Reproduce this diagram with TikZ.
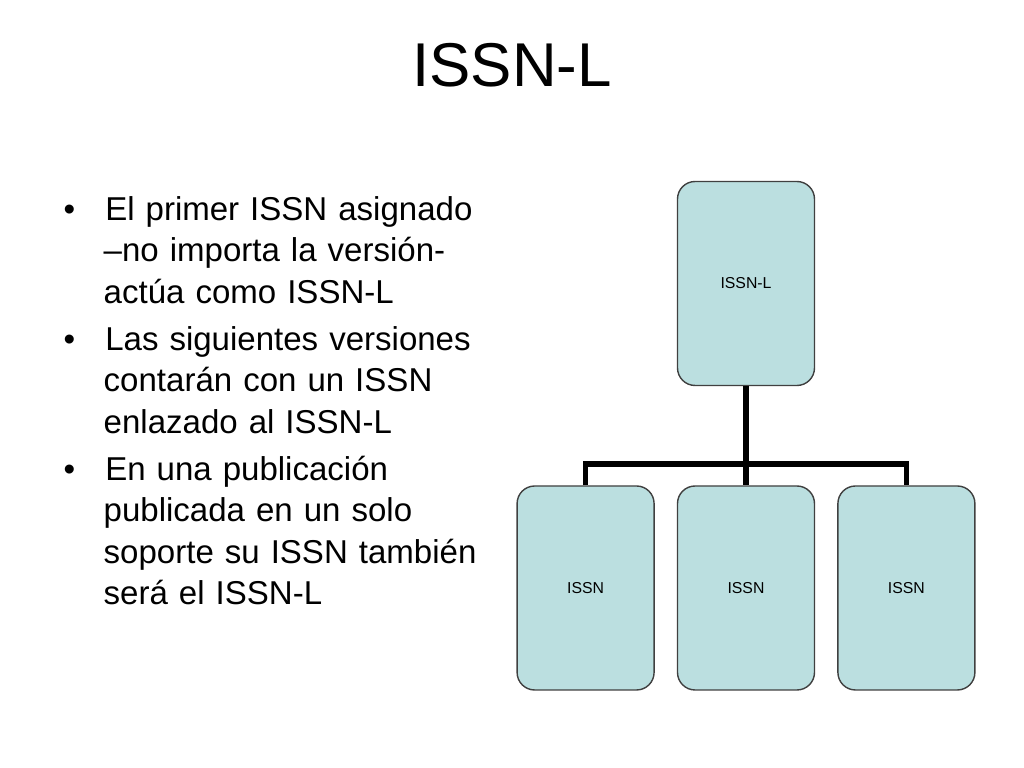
\documentclass[tikz,border=0pt]{standalone}
\usepackage{fontspec}
\setmainfont{Liberation Sans}
\usetikzlibrary{positioning}
\definecolor{boxfill}{HTML}{BBDFE0}
\tikzset{
  issnbox/.style={draw=black!75, fill=boxfill, rounded corners=5pt,
    minimum width=1.37cm, minimum height=2.04cm, inner sep=0pt,
    font=\fontsize{4.5}{5}\selectfont},
  link/.style={line width=1.6pt}
}
\begin{document}
\begin{tikzpicture}
  \useasboundingbox (0,0) rectangle (10.24,7.68);
  % title
  \node (title) at (5.12,7.03) {\fontsize{17.6}{20}\selectfont ISSN-L};
  % bullet list
  \node[anchor=north west, text width=4.6cm, inner sep=0pt, align=left,
        font=\fontsize{9.4}{11.8}\selectfont] (list) at (0.6,5.9) {%
    \begin{list}{•}{\leftmargin=0.43cm \labelwidth=0.1cm \labelsep=0.3cm
      \itemsep=1.6pt \parsep=0pt \topsep=0pt}
    \item El primer ISSN asignado\newline –no importa la versión-\newline actúa como ISSN-L
    \item Las siguientes versiones\newline contarán con un ISSN\newline enlazado al ISSN-L
    \item En una publicación\newline publicada en un solo\newline soporte su ISSN también\newline será el ISSN-L
    \end{list}};
  % hierarchy
  \node[issnbox] (top) at (7.46,4.845) {ISSN-L};
  \node[issnbox] (mid) at (7.46,1.80) {ISSN};
  \node[issnbox, left=0.22cm of mid] (left) {ISSN};
  \node[issnbox, right=0.22cm of mid] (right) {ISSN};
  \coordinate (fork) at (7.46,3.04);
  \draw[link] (top.south) -- (fork) -- (mid.north);
  \draw[link] (left.north) |- (fork) -| (right.north);
\end{tikzpicture}
\end{document}
